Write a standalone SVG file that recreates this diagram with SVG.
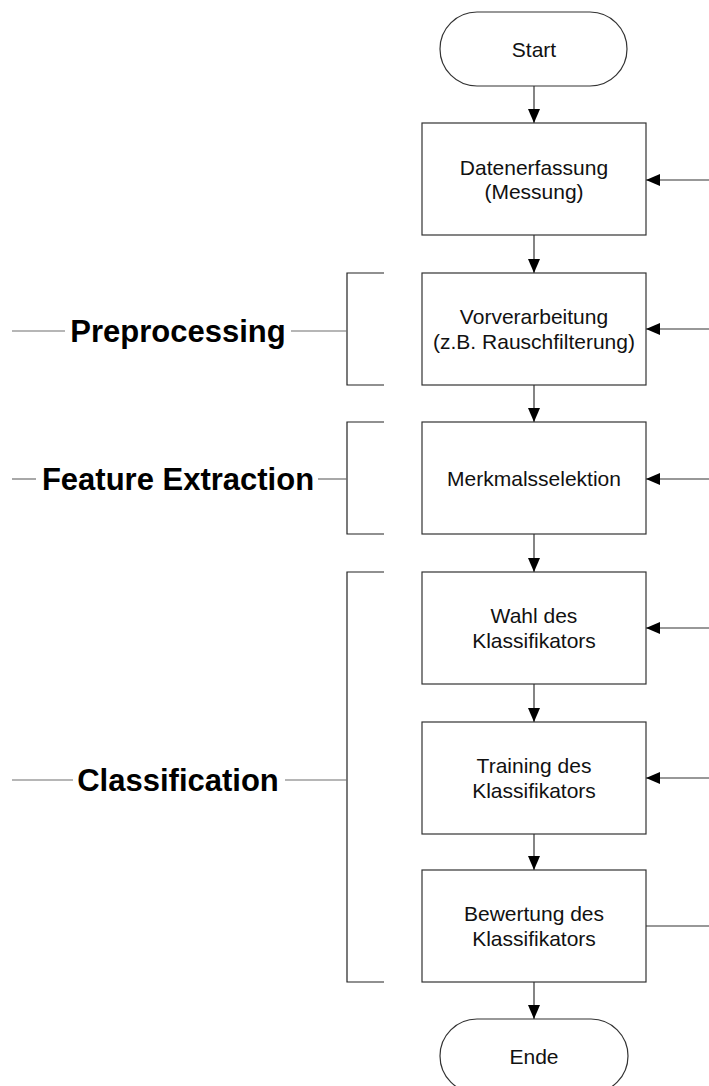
<svg xmlns="http://www.w3.org/2000/svg" width="709" height="1086" viewBox="0 0 709 1086">
  <style>
    .box { fill: #ffffff; stroke: #333333; stroke-width: 1.2; }
    .txt { font-family: "Liberation Sans", Arial, sans-serif; font-size: 21px; fill: #111111; text-anchor: middle; }
    .lbl { font-family: "Liberation Sans", Arial, sans-serif; font-size: 31px; font-weight: bold; fill: #000000; text-anchor: middle; }
    .edge { fill: none; stroke: #333333; stroke-width: 1.2; }
    .brace { fill: none; stroke: #222222; stroke-width: 1.2; }
    .tick { fill: none; stroke: #6e6e6e; stroke-width: 1.2; }
  </style>
  <defs>
    <marker id="arrow" viewBox="0 0 14 12" refX="14" refY="6" markerWidth="14" markerHeight="12" markerUnits="userSpaceOnUse" orient="auto">
      <path d="M0,0 L14,6 L0,12 Z" fill="#000000"/>
    </marker>
  </defs>
  <rect width="709" height="1086" fill="#ffffff"/>

  <!-- flow connectors -->
  <g id="connectors">
    <line class="edge" x1="534" y1="86" x2="534" y2="123" marker-end="url(#arrow)"/>
    <line class="edge" x1="534" y1="235" x2="534" y2="273" marker-end="url(#arrow)"/>
    <line class="edge" x1="534" y1="385" x2="534" y2="422" marker-end="url(#arrow)"/>
    <line class="edge" x1="534" y1="534" x2="534" y2="572" marker-end="url(#arrow)"/>
    <line class="edge" x1="534" y1="684" x2="534" y2="722" marker-end="url(#arrow)"/>
    <line class="edge" x1="534" y1="834" x2="534" y2="870" marker-end="url(#arrow)"/>
    <line class="edge" x1="534" y1="982" x2="534" y2="1019" marker-end="url(#arrow)"/>
    <!-- feedback lines entering from the right -->
    <line class="edge" x1="712" y1="180" x2="646" y2="180" marker-end="url(#arrow)"/>
    <line class="edge" x1="712" y1="329" x2="646" y2="329" marker-end="url(#arrow)"/>
    <line class="edge" x1="712" y1="479" x2="646" y2="479" marker-end="url(#arrow)"/>
    <line class="edge" x1="712" y1="628" x2="646" y2="628" marker-end="url(#arrow)"/>
    <line class="edge" x1="712" y1="778" x2="646" y2="778" marker-end="url(#arrow)"/>
    <line class="edge" x1="646" y1="926" x2="712" y2="926"/>
  </g>

  <g id="start">
    <rect class="box" x="440" y="12" width="187" height="74" rx="37" ry="37"/>
    <text class="txt" x="534" y="57">Start</text>
  </g>

  <g id="datenerfassung">
    <rect class="box" x="422" y="123" width="224" height="112"/>
    <text class="txt" x="534" y="175">Datenerfassung</text>
    <text class="txt" x="534" y="199">(Messung)</text>
  </g>

  <g id="vorverarbeitung">
    <rect class="box" x="422" y="273" width="224" height="112"/>
    <text class="txt" x="534" y="324">Vorverarbeitung</text>
    <text class="txt" x="534" y="349">(z.B. Rauschfilterung)</text>
  </g>

  <g id="merkmalsselektion">
    <rect class="box" x="422" y="422" width="224" height="112"/>
    <text class="txt" x="534" y="486">Merkmalsselektion</text>
  </g>

  <g id="wahl">
    <rect class="box" x="422" y="572" width="224" height="112"/>
    <text class="txt" x="534" y="623">Wahl des</text>
    <text class="txt" x="534" y="648">Klassifikators</text>
  </g>

  <g id="training">
    <rect class="box" x="422" y="722" width="224" height="112"/>
    <text class="txt" x="534" y="773">Training des</text>
    <text class="txt" x="534" y="798">Klassifikators</text>
  </g>

  <g id="bewertung">
    <rect class="box" x="422" y="870" width="224" height="112"/>
    <text class="txt" x="534" y="921">Bewertung des</text>
    <text class="txt" x="534" y="946">Klassifikators</text>
  </g>

  <g id="ende">
    <rect class="box" x="440" y="1019" width="188" height="74" rx="37" ry="37"/>
    <text class="txt" x="534" y="1064">Ende</text>
  </g>

  <!-- phase brackets with labels -->
  <g id="phase-preprocessing">
    <polyline class="brace" points="384,273 347,273 347,385 384,385"/>
    <line class="tick" x1="12" y1="331" x2="65" y2="331"/>
    <line class="tick" x1="291" y1="331" x2="347" y2="331"/>
    <text class="lbl" x="178" y="342">Preprocessing</text>
  </g>

  <g id="phase-feature-extraction">
    <polyline class="brace" points="384,422 347,422 347,534 384,534"/>
    <line class="tick" x1="12" y1="479" x2="36" y2="479"/>
    <line class="tick" x1="318" y1="479" x2="347" y2="479"/>
    <text class="lbl" x="178" y="490">Feature Extraction</text>
  </g>

  <g id="phase-classification">
    <polyline class="brace" points="384,572 347,572 347,982 384,982"/>
    <line class="tick" x1="12" y1="780" x2="73" y2="780"/>
    <line class="tick" x1="285" y1="780" x2="347" y2="780"/>
    <text class="lbl" x="178" y="791">Classification</text>
  </g>
</svg>
